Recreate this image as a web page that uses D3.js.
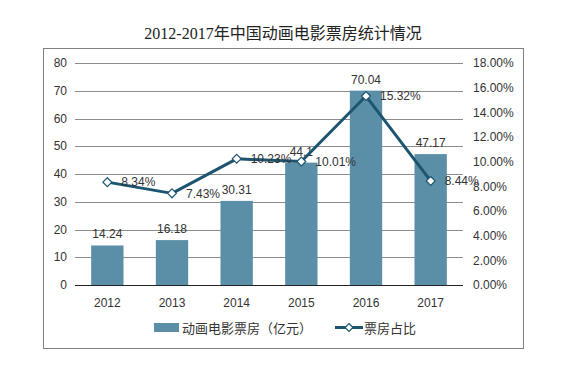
<!DOCTYPE html>
<html>
<head>
<meta charset="utf-8">
<script src="https://cdn.jsdelivr.net/npm/d3@7"></script>
<style>
  body { margin: 0; background: #fff; }
  svg text { font-family: "Liberation Sans", Arial, "Noto Sans CJK SC", sans-serif; fill: #333; }
  .title { font-family: "Liberation Serif", "DejaVu Serif", "Noto Sans CJK SC", serif; font-size: 16px; fill: #222; }
</style>
</head>
<body>
<svg id="chart" width="566" height="377"></svg>
<script>
var years = ["2012", "2013", "2014", "2015", "2016", "2017"];
var boxOffice = [14.24, 16.18, 30.31, 44.1, 70.04, 47.17];
var share = [8.34, 7.43, 10.23, 10.01, 15.32, 8.44];
var leftTicks = [0, 10, 20, 30, 40, 50, 60, 70, 80];
var rightTicks = [0, 2, 4, 6, 8, 10, 12, 14, 16, 18];
var barName = "动画电影票房（亿元）";
var lineName = "票房占比";
var titleText = "2012-2017年中国动画电影票房统计情况";

var svg = d3.select("#chart");
const margins = {top: 63, right: 103, bottom: 92, left: 75};
const W = 566, H = 377;
const barColor = "#5b8fa7", lineColor = "#1d5570";

svg.append("text").attr("class", "title")
    .attr("x", 283).attr("y", 39)
    .attr("text-anchor", "middle")
    .text(titleText);

svg.append("rect")
    .attr("x", 43.5).attr("y", 48.5)
    .attr("width", 480).attr("height", 300)
    .attr("fill", "none").attr("stroke", "#808080").attr("stroke-width", 1);

var x = d3.scaleBand().domain(years)
    .range([margins.left, W - margins.right])
    .paddingInner(0.5).paddingOuter(0.25);
var yL = d3.scaleLinear().domain([0, 80]).range([H - margins.bottom, margins.top]);
var yR = d3.scaleLinear().domain([0, 18]).range([H - margins.bottom, margins.top]);

// gridlines
svg.append("g").selectAll("line").data(leftTicks.slice(1)).enter()
    .append("line")
    .attr("x1", margins.left).attr("x2", W - margins.right)
    .attr("y1", d => Math.round(yL(d)) + 0.5).attr("y2", d => Math.round(yL(d)) + 0.5)
    .attr("stroke", "#8c8c8c").attr("stroke-width", 1);

// left axis labels
svg.append("g").selectAll("text").data(leftTicks).enter()
    .append("text")
    .attr("x", 67).attr("y", d => yL(d))
    .attr("dy", "0.35em").attr("text-anchor", "end")
    .style("font-size", "12px")
    .text(d => d);

// right axis labels
svg.append("g").selectAll("text").data(rightTicks).enter()
    .append("text")
    .attr("x", 473).attr("y", d => yR(d))
    .attr("dy", "0.35em").attr("text-anchor", "start")
    .style("font-size", "12px")
    .text(d => d3.format(".2f")(d) + "%");

// bars
svg.append("g").selectAll("rect").data(boxOffice).enter()
    .append("rect")
    .attr("x", (d, i) => x(years[i]))
    .attr("width", x.bandwidth())
    .attr("y", d => yL(d))
    .attr("height", d => yL(0) - yL(d))
    .attr("fill", barColor);

// x axis baseline
svg.append("line")
    .attr("x1", margins.left).attr("x2", W - margins.right)
    .attr("y1", Math.round(yL(0)) + 0.5).attr("y2", Math.round(yL(0)) + 0.5)
    .attr("stroke", "#222").attr("stroke-width", 1);

// x labels
svg.append("g").selectAll("text").data(years).enter()
    .append("text")
    .attr("x", d => x(d) + x.bandwidth() / 2)
    .attr("y", yL(0) + 18)
    .attr("dy", "0.35em").attr("text-anchor", "middle")
    .style("font-size", "12px")
    .text(d => d);

// bar value labels
svg.append("g").selectAll("text").data(boxOffice).enter()
    .append("text")
    .attr("x", (d, i) => x(years[i]) + x.bandwidth() / 2)
    .attr("y", d => yL(d) - 7)
    .attr("text-anchor", "middle")
    .style("font-size", "12px")
    .text(d => d);

// line
var cx = i => x(years[i]) + x.bandwidth() / 2;
svg.append("path")
    .datum(share)
    .attr("fill", "none").attr("stroke", lineColor).attr("stroke-width", 3)
    .attr("stroke-linejoin", "round")
    .attr("d", d3.line().x((d, i) => cx(i)).y(d => yR(d)));

svg.append("g").selectAll("path").data(share).enter()
    .append("path")
    .attr("d", d3.symbol(d3.symbolDiamond2, 50))
    .attr("transform", (d, i) => "translate(" + cx(i) + "," + yR(d) + ")")
    .attr("fill", "#fff").attr("stroke", lineColor).attr("stroke-width", 1.2);

svg.append("g").selectAll("text").data(share).enter()
    .append("text")
    .attr("x", (d, i) => cx(i) + 14)
    .attr("y", d => yR(d))
    .attr("dy", "0.35em")
    .style("font-size", "12px")
    .text(d => d3.format(".2f")(d) + "%");

// legend
var lg = svg.append("g");
lg.append("rect").attr("x", 154).attr("y", 323).attr("width", 25).attr("height", 9).attr("fill", barColor);
lg.append("text").attr("x", 182).attr("y", 328).attr("dy", "0.35em")
    .style("font-size", "13px").text(barName);
lg.append("line").attr("x1", 335).attr("x2", 363).attr("y1", 327.5).attr("y2", 327.5)
    .attr("stroke", lineColor).attr("stroke-width", 3);
lg.append("path").attr("d", d3.symbol(d3.symbolDiamond2, 40))
    .attr("transform", "translate(349,327.5)")
    .attr("fill", "#fff").attr("stroke", lineColor).attr("stroke-width", 1.2);
lg.append("text").attr("x", 364).attr("y", 328).attr("dy", "0.35em")
    .style("font-size", "13px").text(lineName);
</script>
</body>
</html>
